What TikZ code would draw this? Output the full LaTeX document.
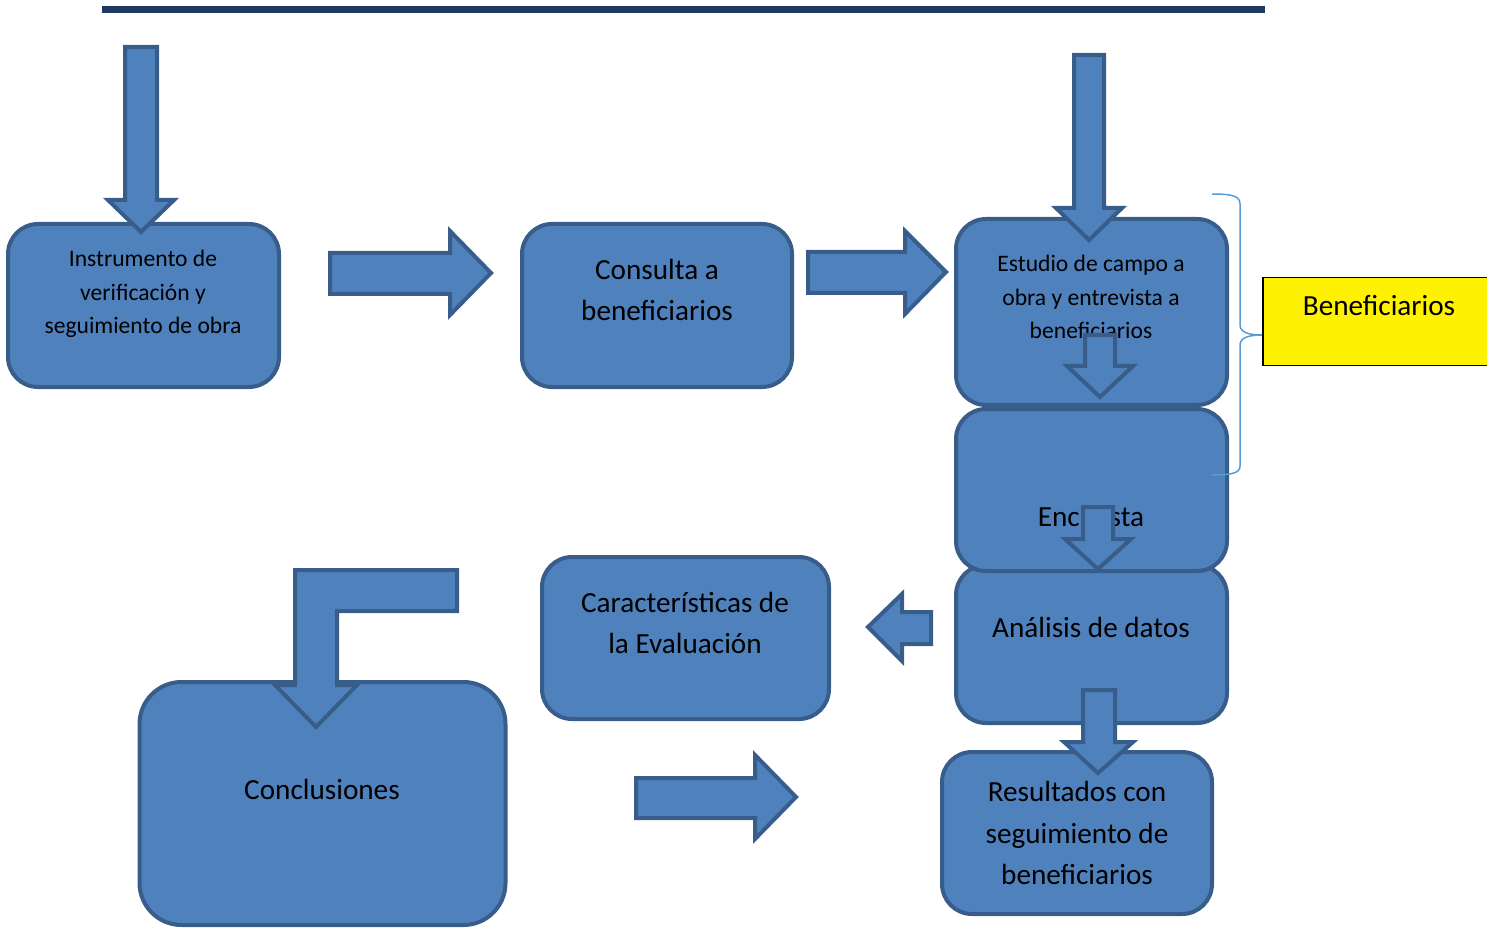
\documentclass[tikz,border=0pt]{standalone}
\usepackage{fontspec}
\setmainfont{Carlito}
\definecolor{boxfill}{HTML}{4F81BD}
\definecolor{boxline}{HTML}{385D8A}
\definecolor{topline}{HTML}{203864}
\definecolor{bracecol}{HTML}{5B9BD5}
\begin{document}
\begin{tikzpicture}[x=0.5pt,y=-0.5pt,
  box/.style={draw=boxline, fill=boxfill, line width=2pt, rounded corners=15pt, inner sep=0pt},
  barrow/.style={draw=boxline, fill=boxfill, line width=2pt, line join=miter},
  smalltxt/.style={align=center, inner sep=0pt, font=\fontsize{11.8}{16.8}\selectfont},
  bigtxt/.style={align=center, inner sep=0pt, font=\fontsize{14.6}{20.6}\selectfont}]
\useasboundingbox (0,0) rectangle (1487,935);

% top rule
\draw[topline, line width=3.5pt] (102,10) -- (1265,10);

% boxes
\node[box, minimum width=135.5pt, minimum height=81.5pt] (b1) at (143.5,305.5) {};
\node[box, minimum width=135pt, minimum height=81.5pt] (b2) at (657,305.5) {};
\node[box, minimum width=135.5pt, minimum height=93pt] (b3) at (1091.5,312) {};
\node[box, minimum width=135.5pt, minimum height=79pt] (b5) at (1091.5,644) {};
\node[box, minimum width=135.5pt, minimum height=81pt] (b4) at (1091.5,490) {};
\node[box, minimum width=135pt, minimum height=81pt] (b6) at (1077,833) {};
\node[box, minimum width=143.5pt, minimum height=81pt] (b7) at (685.5,638) {};
\node[box, rounded corners=21pt, minimum width=183pt, minimum height=121.5pt] (b8) at (322.5,803.5) {};

% texts
\node[smalltxt] (t1) at (143,294) {Instrumento de\\verificación y\\seguimiento de obra};
\node[bigtxt] (t2) at (657,290) {Consulta a\\beneficiarios};
\node[smalltxt] (t3) at (1091,297) {Estudio de campo a\\obra y entrevista a\\beneficiarios};
\node[bigtxt] (t4) at (1091,517) {Encuesta};
\node[bigtxt] (t5) at (1091,627) {Análisis de datos};
\node[bigtxt] (t6) at (1077,833) {Resultados con\\seguimiento de\\beneficiarios};
\node[bigtxt] (t7) at (685,623) {Características de\\la Evaluación};
\node[bigtxt] (t8) at (322,789) {Conclusiones};

% block arrows
\draw[barrow] (125,47) -- (157,47) -- (157,200) -- (174,200) -- (141,232) -- (108,200) -- (125,200) -- cycle;
\draw[barrow] (330,253) -- (450,253) -- (450,231) -- (491,273) -- (450,315) -- (450,294) -- (330,294) -- cycle;
\draw[barrow] (808,252) -- (905,252) -- (905,231) -- (946,272) -- (905,314) -- (905,293) -- (808,293) -- cycle;
\draw[barrow] (1074,55) -- (1104,55) -- (1104,208) -- (1122,208) -- (1089,240) -- (1056,208) -- (1074,208) -- cycle;
\draw[barrow] (1085,335) -- (1115,335) -- (1115,366) -- (1133,366) -- (1100,397) -- (1067,366) -- (1085,366) -- cycle;
\draw[barrow] (1083,507) -- (1113,507) -- (1113,539) -- (1131,539) -- (1098,569) -- (1065,539) -- (1083,539) -- cycle;
\draw[barrow] (1083,690) -- (1115,690) -- (1115,742) -- (1133,742) -- (1098,773) -- (1064,742) -- (1083,742) -- cycle;
\draw[barrow] (931,612) -- (902,612) -- (902,594) -- (868,627) -- (902,661) -- (902,644) -- (931,644) -- cycle;
\draw[barrow] (636,778) -- (755,778) -- (755,755) -- (796,797) -- (755,839) -- (755,818) -- (636,818) -- cycle;
\draw[barrow] (457,570) -- (295,570) -- (295,685) -- (275,685) -- (316,727) -- (357,685) -- (337,685) -- (337,611) -- (457,611) -- cycle;

% brace and label
\draw[bracecol, line width=0.75pt] (1212,194) .. controls (1232,194) and (1240,196) .. (1240,204)
  -- (1240,325) .. controls (1240,332) and (1248,335) .. (1262,335)
  .. controls (1248,335) and (1240,338) .. (1240,345)
  -- (1240,466) .. controls (1240,473) and (1232,475) .. (1212,475);
\node[draw=black, fill=yellow, line width=0.75pt, minimum width=116pt, minimum height=44pt, inner sep=0pt, anchor=north west] (ben) at (1262,277) {};
\node[bigtxt] (tben) at (1379,306) {Beneficiarios};
\end{tikzpicture}
\end{document}
